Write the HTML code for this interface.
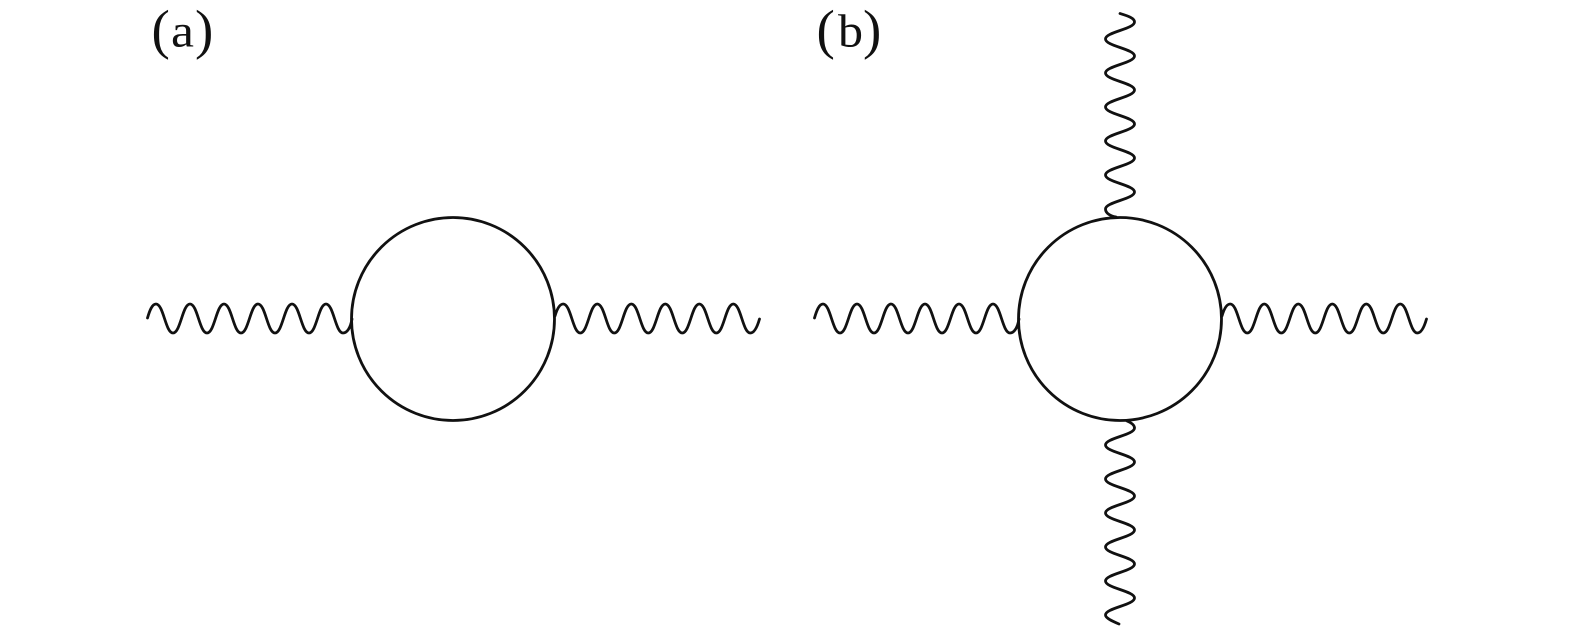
<!DOCTYPE html>
<html>
<head>
<meta charset="utf-8">
<style>
html,body{margin:0;padding:0;background:#fff;}
svg{display:block;}
text{font-family:"Liberation Serif",serif;fill:#111;}
.p{font-size:55px;}
.l{font-size:47px;}
path,circle{fill:none;stroke:#111;stroke-width:2.8;stroke-linecap:round;}
</style>
</head>
<body>
<svg width="1575" height="640" viewBox="0 0 1575 640" xmlns="http://www.w3.org/2000/svg">
<rect width="1575" height="640" fill="#fff" style="stroke:none"/>
<text class="p" x="151.500" y="48">(</text>
<text class="l" x="171" y="46.500" textLength="23" lengthAdjust="spacingAndGlyphs">a</text>
<text class="p" x="195" y="48">)</text>
<text class="p" x="816.500" y="48">(</text>
<text class="l" x="838" y="46.500" textLength="25" lengthAdjust="spacingAndGlyphs">b</text>
<text class="p" x="863" y="48">)</text>

<circle cx="453" cy="319" r="101.5"/>
<circle cx="1120" cy="319" r="101.5"/>

<path d="M147.5 318C149.5 311 152 304 156 304c7.500 0 9.500 29 17 29s9.500 -29 17 -29s9.500 29 17 29s9.500 -29 17 -29s9.500 29 17 29s9.500 -29 17 -29s9.500 29 17 29s9.500 -29 17 -29s9.500 29 17 29s9.500 -29 17 -29s9.500 29 17 29C347 333 350.500 328 352 319"/>
<path d="M555 316C557 309 559.500 304 563.300 304c7.500 0 9.500 29 17 29s9.500 -29 17 -29s9.500 29 17 29s9.500 -29 17 -29s9.500 29 17 29s9.500 -29 17 -29s9.500 29 17 29s9.500 -29 17 -29s9.500 29 17 29s9.500 -29 17 -29s9.500 29 17 29C754.500 333 757.500 326 759.500 319"/>

<path d="M814.500 318C816.500 311 819 304 823 304c7.500 0 9.500 29 17 29s9.500 -29 17 -29s9.500 29 17 29s9.500 -29 17 -29s9.500 29 17 29s9.500 -29 17 -29s9.500 29 17 29s9.500 -29 17 -29s9.500 29 17 29s9.500 -29 17 -29s9.500 29 17 29C1014 333 1017.500 328 1019 319"/>
<path d="M1222 316C1224 309 1226.500 304 1230.300 304c7.500 0 9.500 29 17 29s9.500 -29 17 -29s9.500 29 17 29s9.500 -29 17 -29s9.500 29 17 29s9.500 -29 17 -29s9.500 29 17 29s9.500 -29 17 -29s9.500 29 17 29s9.500 -29 17 -29s9.500 29 17 29C1421.500 333 1424.500 326 1426.500 319"/>

<path d="M1120 13.500C1128 16 1134.500 18 1134.500 22c0 7 -29 10 -29 17s29 10 29 17s-29 10 -29 17s29 10 29 17s-29 10 -29 17s29 10 29 17s-29 10 -29 17s29 10 29 17s-29 10 -29 17s29 10 29 17s-29 10 -29 17C1105.500 213 1110 216 1116 217"/>
<path d="M1127 421C1132 423 1134.500 425 1134.500 428c0 7 -29 10 -29 17s29 10 29 17s-29 10 -29 17s29 10 29 17s-29 10 -29 17s29 10 29 17s-29 10 -29 17s29 10 29 17s-29 10 -29 17s29 10 29 17s-29 10 -29 17C1105.500 618 1112 621 1119 624"/>
</svg>
</body>
</html>
